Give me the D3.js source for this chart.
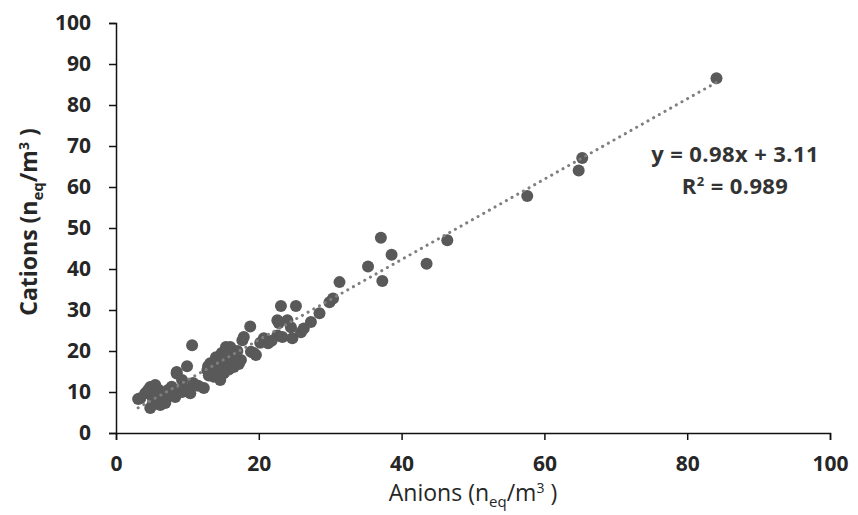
<!DOCTYPE html>
<html>
<head>
<meta charset="utf-8">
<script src="https://cdn.jsdelivr.net/npm/d3@7"></script>
<style>
  body { margin: 0; background: #fff; }
  text { font-family: 'Open Sans', sans-serif; }
</style>
</head>
<body>
<div id="chart"></div>
<script>
// Anion vs cation sums (n_eq/m3)
const anions = [
  3.1, 3.4, 4.1, 4.8, 4.8, 5.0, 5.5, 5.9, 5.5, 6.4, 6.9, 6.9, 7.3, 7.8, 8.3, 6.0,
  7.0, 8.0, 9.25, 10.4, 10.8, 9.25, 8.5, 8.5, 9.95, 10.66, 12.3, 11.5, 9.5, 4.5, 5.2, 6.2,
  12.8, 13.2, 13.7, 14.2, 14.6, 14.6, 15.1, 15.4, 15.6, 16.1, 16.5, 16.5, 17.5, 17.7,
  17.9, 13.5, 14.0, 15.0, 15.8, 16.8, 13.0, 14.3, 15.5, 16.0, 17.0, 17.2, 12.9, 14.8,
  18.8, 18.9, 19.6, 19.3, 20.7, 21.3, 22.6, 22.8, 22.6, 23.1, 25.2, 24.0, 24.5, 24.7,
  23.3, 25.9, 26.3, 27.3, 28.5, 29.9, 30.4, 31.3, 21.8, 20.2,
  35.3, 37.1, 38.6, 37.3, 43.5, 46.4, 57.6, 64.8, 65.3, 84.1
];
const cations = [
  8.3, 8.5, 9.7, 11.2, 6.1, 9.0, 11.7, 7.3, 8.5, 9.7, 8.0, 7.3, 10.5, 11.3, 8.8, 10.5,
  9.5, 10.0, 10.0, 9.7, 12.2, 12.9, 14.5, 14.9, 16.3, 21.4, 11.0, 11.5, 11.0, 10.5, 7.5, 6.8,
  15.3, 17.0, 13.7, 15.3, 17.8, 12.9, 14.6, 21.0, 18.6, 17.0, 16.1, 19.5, 17.8, 22.6,
  23.4, 16.0, 18.5, 16.5, 15.5, 18.5, 14.0, 14.2, 20.0, 21.0, 20.0, 16.8, 16.3, 19.5,
  26.0, 19.8, 19.0, 19.5, 23.1, 21.9, 23.8, 26.8, 27.5, 31.0, 31.0, 27.5, 25.8, 23.1,
  23.4, 24.6, 25.5, 27.1, 29.2, 31.9, 32.8, 36.8, 22.5, 22.0,
  40.6, 47.6, 43.5, 37.1, 41.3, 47.0, 57.8, 64.0, 67.1, 86.5
];
const xTicks = [0, 20, 40, 60, 80, 100];
const yTicks = [0, 10, 20, 30, 40, 50, 60, 70, 80, 90, 100];
const slope = 0.98;
const intercept = 3.11;
const fitRange = [3.1, 84.1];
const eqLabel = 'y = 0.98x + 3.11';
const r2Value = '0.989';

const width = 858, height = 515;
const margin = { top: 23, right: 28, bottom: 82, left: 116 };
const adjWidth = width - margin.left - margin.right;
const adjHeight = height - margin.top - margin.bottom;

const svg = d3.select('#chart').append('svg')
  .attr('width', width)
  .attr('height', height);

const g = svg.append('g')
  .attr('transform', 'translate(' + margin.left + ',' + margin.top + ')');

const x = d3.scaleLinear().domain([0, 100]).range([0, adjWidth]);
const y = d3.scaleLinear().domain([0, 100]).range([adjHeight, 0]);

//Axes
const xAxis = g.append('g')
  .attr('transform', 'translate(0,' + adjHeight + ')')
  .call(d3.axisBottom(x).tickValues(xTicks).tickSize(7).tickPadding(16));

const yAxis = g.append('g')
  .call(d3.axisLeft(y).tickValues(yTicks).tickSize(7).tickPadding(18));

[xAxis, yAxis].forEach((ax) => {
  ax.select('.domain').attr('stroke', '#111').attr('stroke-width', 1.5);
  ax.selectAll('.tick line').attr('stroke', '#111').attr('stroke-width', 1.5);
  ax.selectAll('.tick text')
    .attr('fill', '#262626')
    .style('font-size', '21px')
    .style('font-weight', 700);
});

//Points
const points = anions.map((a, i) => [a, cations[i]]);
g.append('g').selectAll('circle')
  .data(points)
  .enter()
  .append('circle')
  .attr('cx', (d) => x(d[0]))
  .attr('cy', (d) => y(d[1]))
  .attr('r', 6)
  .attr('fill', '#595959');

//Dotted linear trend line
const line = d3.line()
  .x((d) => x(d))
  .y((d) => y(slope * d + intercept));

g.append('path')
  .attr('d', line(fitRange))
  .attr('fill', 'none')
  .attr('stroke', '#7f7f7f')
  .attr('stroke-width', 3)
  .attr('stroke-linecap', 'round')
  .attr('stroke-dasharray', '0.1,6.4');

//Equation label
const eq = g.append('text')
  .attr('x', x(86.7))
  .attr('y', y(66.1))
  .attr('text-anchor', 'middle')
  .attr('fill', '#333')
  .style('font-size', '22px')
  .style('font-weight', 700)
  .style('letter-spacing', '0.4px');
eq.text(eqLabel);

const r2 = g.append('text')
  .attr('x', x(86.7))
  .attr('y', y(58.3))
  .attr('text-anchor', 'middle')
  .attr('fill', '#333')
  .style('font-size', '22px')
  .style('font-weight', 700)
  .style('letter-spacing', '0.4px');
r2.append('tspan').text('R');
r2.append('tspan').attr('dy', -8).style('font-size', '13px').text('2');
r2.append('tspan').attr('dy', 8).text(' = ' + r2Value);

//Axis titles
const xTitle = svg.append('text')
  .attr('x', margin.left + x(50))
  .attr('y', 501)
  .attr('text-anchor', 'middle')
  .attr('fill', '#262626')
  .style('font-size', '23px')
  .style('font-weight', 400);
xTitle.append('tspan').text('Anions (n');
xTitle.append('tspan').attr('dy', 6).style('font-size', '15px').text('eq');
xTitle.append('tspan').attr('dy', -6).text('/m');
xTitle.append('tspan').attr('dy', -8).style('font-size', '14px').text('3');
xTitle.append('tspan').attr('dy', 8).text(' )');

const yTitle = svg.append('text')
  .attr('transform', 'translate(37,222) rotate(-90)')
  .attr('text-anchor', 'middle')
  .attr('fill', '#262626')
  .style('font-size', '23px')
  .style('font-weight', 700);
yTitle.append('tspan').text('Cations (n');
yTitle.append('tspan').attr('dy', 6).style('font-size', '15px').text('eq');
yTitle.append('tspan').attr('dy', -6).text('/m');
yTitle.append('tspan').attr('dy', -8).style('font-size', '14px').text('3');
yTitle.append('tspan').attr('dy', 8).text(' )');
</script>
</body>
</html>
